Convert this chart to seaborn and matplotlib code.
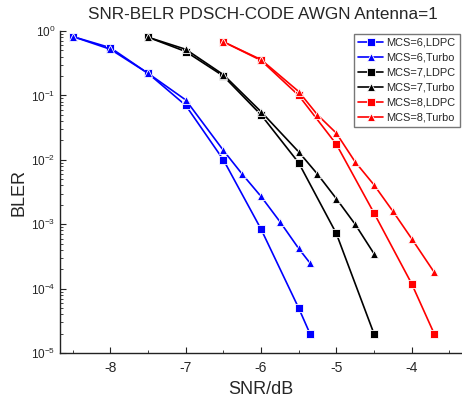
import pandas as pd
import matplotlib
matplotlib.use('Agg')
import matplotlib.pyplot as plt
import seaborn as sns
from matplotlib.ticker import LogLocator, MultipleLocator, NullFormatter

# valores (SNR em dB, BLER)
snr_6_ldpc = [-8.5, -8.0, -7.5, -7.0, -6.5, -6.0, -5.5, -5.35]
bler_6_ldpc = [0.82, 0.55, 0.22, 0.070, 0.0100, 8.4e-4, 5.0e-5, 2.0e-5]
snr_6_turbo = [-8.5, -8.0, -7.5, -7.0, -6.5, -6.25, -6.0, -5.75, -5.5, -5.35]
bler_6_turbo = [0.82, 0.52, 0.22, 0.085, 0.0140, 6.0e-3, 2.7e-3, 1.1e-3, 4.2e-4, 2.5e-4]

snr_7_ldpc = [-7.5, -7.0, -6.5, -6.0, -5.5, -5.0, -4.5]
bler_7_ldpc = [0.80, 0.48, 0.20, 0.050, 9.0e-3, 7.2e-4, 2.0e-5]
snr_7_turbo = [-7.5, -7.0, -6.5, -6.0, -5.5, -5.25, -5.0, -4.75, -4.5]
bler_7_turbo = [0.80, 0.52, 0.21, 0.056, 0.0133, 6.0e-3, 2.5e-3, 1.0e-3, 3.5e-4]

snr_8_ldpc = [-6.5, -6.0, -5.5, -5.0, -4.5, -4.0, -3.7]
bler_8_ldpc = [0.68, 0.35, 0.100, 0.0175, 1.5e-3, 1.2e-4, 2.0e-5]
snr_8_turbo = [-6.5, -6.0, -5.5, -5.25, -5.0, -4.75, -4.5, -4.25, -4.0, -3.7]
bler_8_turbo = [0.68, 0.36, 0.115, 0.050, 0.026, 9.3e-3, 4.1e-3, 1.6e-3, 6.0e-4, 1.8e-4]

series = {
    'MCS=6,LDPC': (snr_6_ldpc, bler_6_ldpc),
    'MCS=6,Turbo': (snr_6_turbo, bler_6_turbo),
    'MCS=7,LDPC': (snr_7_ldpc, bler_7_ldpc),
    'MCS=7,Turbo': (snr_7_turbo, bler_7_turbo),
    'MCS=8,LDPC': (snr_8_ldpc, bler_8_ldpc),
    'MCS=8,Turbo': (snr_8_turbo, bler_8_turbo),
}
cores = {'MCS=6,LDPC': '#0000ff', 'MCS=6,Turbo': '#0000ff',
         'MCS=7,LDPC': '#000000', 'MCS=7,Turbo': '#000000',
         'MCS=8,LDPC': '#ff0000', 'MCS=8,Turbo': '#ff0000'}
marcadores = {k: ('s' if 'LDPC' in k else '^') for k in series}

linhas = []
for nome, (xs, ys) in series.items():
    for x, y in zip(xs, ys):
        linhas.append({'SNR': x, 'BLER': y, 'Serie': nome})
df = pd.DataFrame(linhas)

sns.set_style('ticks')
plt.rcParams['font.family'] = ['Liberation Sans', 'DejaVu Sans']
plt.rcParams['mathtext.fontset'] = 'custom'
plt.rcParams['mathtext.rm'] = 'Liberation Sans'
plt.rcParams['axes.unicode_minus'] = False

fig = plt.figure(figsize=(4.62, 4.03), dpi=100)
ax = fig.add_axes([0.13, 0.124, 0.87, 0.799])

sns.lineplot(data=df, x='SNR', y='BLER', hue='Serie', style='Serie',
             palette=cores, markers=marcadores, dashes=False, sort=False,
             linewidth=1.2, markersize=5.2, markeredgewidth=0.6, ax=ax)

ax.set_yscale('log')
ax.set_ylim(1e-5, 1)
ax.set_xlim(-8.67, -3.33)
ax.xaxis.set_major_locator(MultipleLocator(1))
ax.xaxis.set_minor_locator(MultipleLocator(0.5))
ax.yaxis.set_major_locator(LogLocator(base=10, numticks=10))
ax.yaxis.set_minor_locator(LogLocator(base=10, subs=range(2, 10), numticks=10))
ax.yaxis.set_minor_formatter(NullFormatter())
ax.tick_params(axis='both', which='both', direction='in', color='#222222')
ax.tick_params(axis='x', which='major', length=4, labelsize=10, pad=6)
ax.tick_params(axis='y', which='major', length=4, labelsize=8.5)
ax.tick_params(axis='both', which='minor', length=2)
for s in ['top', 'right']:
    ax.spines[s].set_visible(False)
for s in ['left', 'bottom']:
    ax.spines[s].set_linewidth(1.0)
    ax.spines[s].set_color('#222222')

ax.set_xlabel('SNR/dB', fontsize=13, labelpad=4)
ax.set_ylabel('BLER', fontsize=13, labelpad=2)
fig.suptitle('SNR-BELR PDSCH-CODE AWGN Antenna=1', fontsize=12.3, x=0.57, y=0.983)

h, l = ax.get_legend_handles_labels()
leg = ax.legend(h, l, loc='upper right', bbox_to_anchor=(0.995, 0.992),
                fontsize=7.9, frameon=True, fancybox=False, borderaxespad=0,
                handlelength=2.3, handletextpad=0.3, labelspacing=0.45,
                borderpad=0.4)
leg.get_frame().set_edgecolor('#555555')
leg.get_frame().set_linewidth(1.0)

fig.savefig('out.png', dpi=100)
